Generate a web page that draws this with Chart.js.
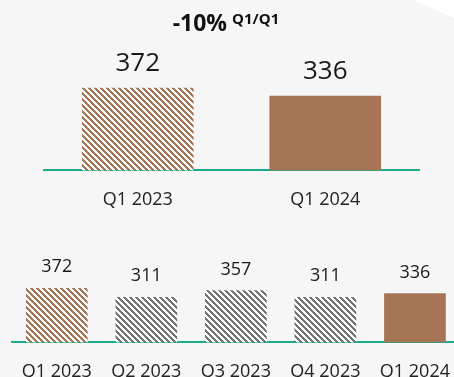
<!DOCTYPE html>
<html>
<head>
<meta charset="utf-8">
<script src="https://cdn.jsdelivr.net/npm/chart.js@4/dist/chart.umd.min.js"></script>
<style>
  html, body { margin: 0; padding: 0; }
  body {
    width: 454px; height: 377px; overflow: hidden; position: relative;
    background: #f6f6f6; font-family: "Open Sans", sans-serif;
  }
  #corner {
    position: absolute; left: 413px; top: 0; width: 41px; height: 18px;
    background: #ffffff; clip-path: polygon(0 0, 100% 0, 100% 100%);
  }
  #headline {
    position: absolute; left: 0; width: 454px; top: 6px; text-align: center;
    color: #111; white-space: nowrap; padding-right: 2px; box-sizing: border-box;
  }
  #headline b { font-size: 23px; font-weight: 700; }
  #headline sup { font-size: 15px; font-weight: 700; position: relative; top: -1px; margin-left: 5px; }
  #topBox { position: absolute; left: 0; top: 0; width: 454px; height: 230px; }
  #bottomBox { position: absolute; left: 0; top: 240px; width: 470px; height: 162px; }
</style>
</head>
<body>
<div id="corner"></div>
<div id="topBox"><canvas id="topChart"></canvas></div>
<div id="bottomBox"><canvas id="bottomChart"></canvas></div>
<div id="headline"><b id="change"></b><sup id="period"></sup></div>
<script>
// year-over-year comparison
const changeLabel = '-10%';
const periodLabel = 'Q1/Q1';
const yearLabels = ['Q1 2023', 'Q1 2024'];
const yearValues = [372, 336];

// quarterly trend
const quarterLabels = ['Q1 2023', 'Q2 2023', 'Q3 2023', 'Q4 2023', 'Q1 2024'];
const quarterValues = [372, 311, 357, 311, 336];

document.getElementById('change').textContent = changeLabel;
document.getElementById('period').textContent = periodLabel;

const brown = '#a57555';
const gray = '#747474';
const teal = '#1aab8e';

// diagonal hatch for the past quarters
function hatch(color) {
  const size = 6;
  const c = document.createElement('canvas');
  c.width = size; c.height = size;
  const g = c.getContext('2d');
  g.fillStyle = '#ffffff';
  g.fillRect(0, 0, size, size);
  g.fillStyle = color;
  // pixel stairs, three on / three off per row
  for (let y = 0; y < size; y++) {
    for (let x = 0; x < 3; x++) {
      g.fillRect((y + x) % size, y, 1, 1);
    }
  }
  return g.createPattern(c, 'repeat');
}

const brownHatch = hatch(brown);
const grayHatch = hatch(gray);

// value above each bar
function valueLabels(fontSize, gap) {
  return {
    id: 'valueLabels',
    afterDatasetsDraw(chart) {
      const ctx = chart.ctx;
      const meta = chart.getDatasetMeta(0);
      const data = chart.data.datasets[0].data;
      ctx.save();
      ctx.font = fontSize + 'px "Open Sans"';
      ctx.fillStyle = '#1a1a1a';
      ctx.textAlign = 'center';
      ctx.textBaseline = 'alphabetic';
      meta.data.forEach((bar, i) => {
        ctx.fillText(String(data[i]), bar.x, bar.y - gap);
      });
      ctx.restore();
    }
  };
}

function barOptions(yMax, pad, tickSize, tickPad) {
  return {
    responsive: true,
    maintainAspectRatio: false,
    animation: false,
    layout: { padding: pad },
    plugins: { legend: { display: false }, tooltip: { enabled: false } },
    scales: {
      x: {
        grid: { display: false, drawTicks: false },
        border: { display: true, color: teal, width: 2 },
        ticks: {
          color: '#222',
          font: { family: 'Open Sans', size: tickSize },
          padding: tickPad,
          maxRotation: 0,
          autoSkip: false
        }
      },
      y: { display: false, min: 0, max: yMax }
    }
  };
}

new Chart(document.getElementById('topChart'), {
  type: 'bar',
  data: {
    labels: yearLabels,
    datasets: [{
      data: yearValues,
      backgroundColor: [brownHatch, brown],
      barThickness: 111
    }]
  },
  options: barOptions(771, { left: 44, right: 35, top: 0, bottom: 0 }, 18, 19),
  plugins: [valueLabels(26, 17)]
});

new Chart(document.getElementById('bottomChart'), {
  type: 'bar',
  data: {
    labels: quarterLabels,
    datasets: [{
      data: quarterValues,
      backgroundColor: [brownHatch, grayHatch, grayHatch, grayHatch, brown],
      barThickness: 61
    }]
  },
  options: barOptions(706, { left: 12, right: 10, top: 0, bottom: 0 }, 18, 19),
  plugins: [valueLabels(18, 16)]
});
</script>
</body>
</html>
